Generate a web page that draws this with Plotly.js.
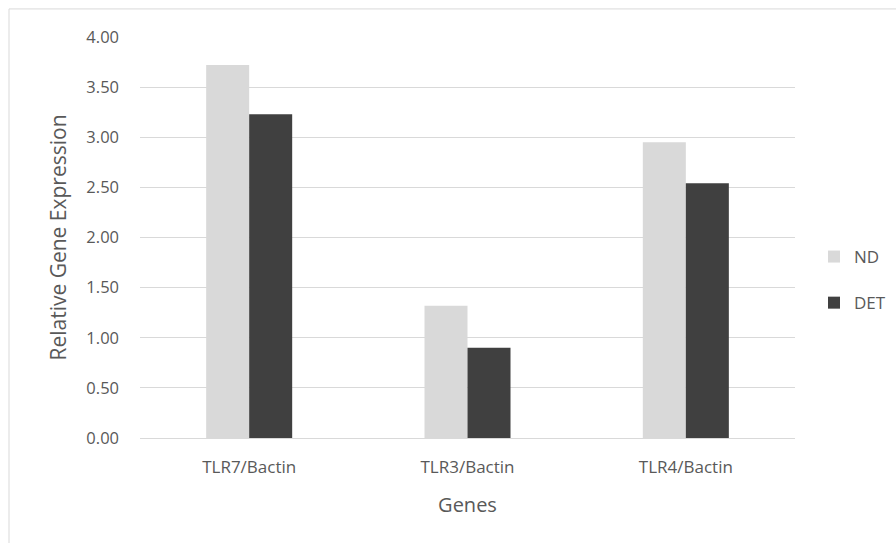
<!DOCTYPE html>
<html>
<head>
<meta charset="utf-8">
<script src="https://cdn.plot.ly/plotly-3.0.1.min.js"></script>
<style>html,body{margin:0;padding:0;background:#fff;}#chart{width:896px;height:543px;}</style>
</head>
<body>
<div id="chart"></div>
<script>
const categories = ["TLR7/Bactin", "TLR3/Bactin", "TLR4/Bactin"];
const seriesNames = ["ND", "DET"];
const ndValues = [3.72, 1.32, 2.95];
const detValues = [3.23, 0.90, 2.54];
const yTickVals = [0, 0.5, 1, 1.5, 2, 2.5, 3, 3.5, 4];
const yTickText = ["0.00", "0.50", "1.00", "1.50", "2.00", "2.50", "3.00", "3.50", "4.00"];

const font = "Open Sans, sans-serif";
const traces = [
  {type: "bar", name: seriesNames[0], x: categories, y: ndValues, marker: {color: "#d9d9d9"}, legendgroup: "a"},
  {type: "bar", name: seriesNames[1], x: categories, y: detValues, marker: {color: "#404040"}, legendgroup: "b"}
];
const layout = {
  width: 896, height: 543,
  margin: {l: 140, r: 101, t: 37, b: 105, autoexpand: false},
  paper_bgcolor: "#fff", plot_bgcolor: "#fff",
  barmode: "group", bargap: 0.606, bargroupgap: 0,
  font: {family: font, color: "#595959", size: 17},
  xaxis: {
    showgrid: false, showline: true, linecolor: "#d9d9d9", linewidth: 1,
    ticks: "", ticklabelstandoff: 14,
    tickfont: {family: font, size: 17, color: "#595959"},
    title: {text: "Genes", font: {family: font, size: 20, color: "#595959"}, standoff: 20}
  },
  yaxis: {
    range: [0, 4], tickvals: yTickVals, ticktext: yTickText,
    showgrid: true, gridcolor: "#d9d9d9", gridwidth: 1, zeroline: false, showline: false,
    ticks: "", ticklabelstandoff: 20,
    tickfont: {family: font, size: 16.5, color: "#595959"},
    title: {text: "Relative Gene Expression", font: {family: font, size: 21, color: "#595959"}, standoff: 14}
  },
  legend: {
    x: 1.029, xanchor: "left", y: 0.394, yanchor: "middle",
    font: {family: font, size: 17, color: "#595959"},
    tracegroupgap: 21, bgcolor: "rgba(0,0,0,0)"
  },
  shapes: [{
    type: "rect", xref: "paper", yref: "paper",
    x0: -0.2, x1: 1.2, y0: -0.3, y1: 1.07,
    line: {color: "#d9d9d9", width: 1}, fillcolor: "rgba(0,0,0,0)", layer: "below"
  }]
};
Plotly.newPlot("chart", traces, layout, {displayModeBar: false, staticPlot: true});
</script>
</body>
</html>
